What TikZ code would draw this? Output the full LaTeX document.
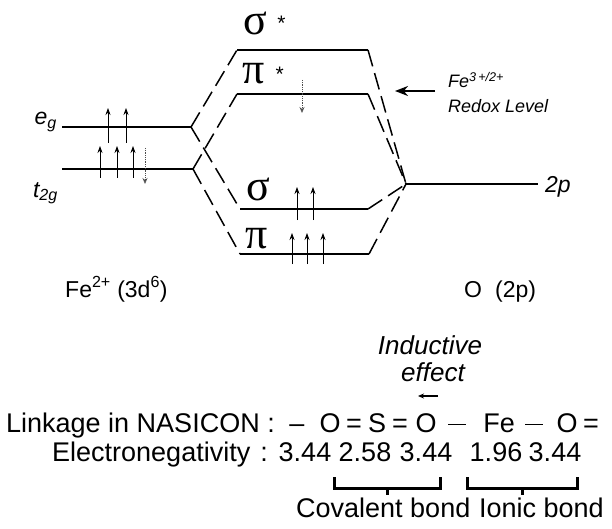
\documentclass[tikz,border=0pt]{standalone}
\usepackage{fontspec}
\setmainfont{Liberation Sans}
\newfontfamily\greekfont{Liberation Serif}
\usetikzlibrary{arrows.meta,positioning,calc}

\newcommand{\bondrule}{\rule[6.8pt]{18pt}{1.7pt}}

\begin{document}
\begin{tikzpicture}[
    x=1pt, y=-1pt,
    level/.style={line width=1.8pt},
    corr/.style={line width=1.5pt, dash pattern=on 17pt off 7pt},
    spinup/.style={line width=0.8pt, -{Stealth[length=7pt, width=5pt]}},
    spindot/.style={line width=0.8pt, densely dotted, black!70, -{Stealth[length=6pt, width=5pt, open]}},
    pointer/.style={line width=2.2pt, -{Stealth[length=13pt, width=10pt]}},
    orb/.style={font=\fontsize{44}{44}\selectfont\greekfont, inner sep=0pt},
    star/.style={font=\fontsize{21}{21}\selectfont, inner sep=0pt},
    lvl/.style={font=\fontsize{23}{23}\selectfont\itshape, inner sep=0pt},
    ion/.style={font=\fontsize{23}{23}\selectfont, inner sep=0pt},
    redox/.style={font=\fontsize{18}{18}\selectfont\itshape, inner sep=0pt},
    txt/.style={font=\fontsize{27}{27}\selectfont, inner sep=0pt},
    itxt/.style={font=\fontsize{26}{26}\selectfont\itshape, inner sep=0pt},
    brk/.style={line width=2.4pt},
]
\useasboundingbox (0,0) rectangle (612,529);

% energy levels
\foreach \n/\xa/\xb/\y in {eg/62/191/127, tg/62/193/169, sgs/237/368/50, pis/237/368/94,
                            sg/240/368/209, pi/240/369/254, op/406/538/184}{
  \coordinate (\n-l) at (\xa,\y);
  \coordinate (\n-r) at (\xb,\y);
  \draw[level] (\n-l) -- (\n-r);
}

% correlation lines
\foreach \a/\b in {eg-r/sgs-l, eg-r/sg-l, tg-r/pis-l, tg-r/pi-l,
                   sgs-r/op-l, pis-r/op-l, sg-r/op-l, pi-r/op-l}
  \draw[corr] (\a) -- (\b);

% electrons
\foreach \x in {108,126} \draw[spinup] (\x,143) -- (\x,108);
\foreach \x in {100,117,133} \draw[spinup] (\x,178) -- (\x,146);
\draw[spindot] (145,148) -- (145,184);
\draw[spindot] (302,80) -- (302,113);
\foreach \x in {297,313} \draw[spinup] (\x,220) -- (\x,187);
\foreach \x in {292,307,323} \draw[spinup] (\x,264) -- (\x,233);

% level labels
\node[orb] (sgs-lab) at (255,23) {σ};
\node[star, right=10pt of sgs-lab] (sgs-star) {*};
\node[orb] (pis-lab) at (254,74) {π};
\node[star, right=10pt of pis-lab] (pis-star) {*};
\node[orb] (sg-lab) at (258,189) {σ};
\node[orb] (pi-lab) at (257,239) {π};
\node[lvl, anchor=base east] (eg-lab) at (57,125) {e\textsubscript{g}};
\node[lvl, anchor=base east] (tg-lab) at (58,197) {t\textsubscript{2g}};
\node[lvl, anchor=base west] (op-lab) at (545,193) {2p};

% redox level
\node[redox, anchor=base west] (fe-lab) at (448,88) {Fe\textsuperscript{3\,+/2+}};
\node[redox, anchor=base west] (redox-lab) at (448,113) {Redox Level};
\coordinate (rdx-tail) at (435,91);
\coordinate (rdx-head) at (395,91);
\draw[pointer] (rdx-tail) -- (rdx-head);

\node[ion, anchor=base west] (fe-ion) at (65,297) {Fe\textsuperscript{2+} (3d\textsuperscript{6})};
\node[ion, anchor=base west] (o-ion) at (464,297) {O\hspace{13pt}(2p)};

% linkage and electronegativity
\node[itxt] (induct) at (430,345) {Inductive};
\node[itxt] (effect) at (433,372) {effect};
\coordinate (ind-tail) at (438,396);
\coordinate (ind-head) at (418,396);
\draw[line width=1.1pt, -{Stealth[length=6pt, width=5pt]}] (ind-tail) -- (ind-head);

\node[txt, anchor=base west] (linkage) at (6,432) {Linkage in NASICON :};
\foreach \x/\t [count=\i] in {297/–, 330/O, 354/=, 377/S, 400/=, 426/O, 457/\bondrule,
                              499/Fe, 534/\bondrule, 567/O, 591/=}
  \node[txt, anchor=base] (ch\i) at (\x,432) {\t};

\node[txt, anchor=base west] (eneg) at (52,461) {Electronegativity};
\node[txt, anchor=base] (colon) at (264,461) {:};
\foreach \x/\v [count=\i] in {305/3.44, 365/2.58, 426/3.44, 496/1.96, 555/3.44}
  \node[txt, anchor=base] (en\i) at (\x,461) {\v};

% bond brackets
\coordinate (cov-a) at ([xshift=-4pt, yshift=-16pt]en2.south west);
\coordinate (cov-b) at ([xshift=-12pt, yshift=-16pt]en3.south east);
\draw[brk] (cov-a) -- ++(0,11) -| (cov-b);
\coordinate (cov-mid) at ($(cov-a)!0.5!(cov-b)+(0,11)$);
\draw[brk] (cov-mid) -- ++(0,7);
\coordinate (ion-a) at ([xshift=-2pt, yshift=-16pt]en4.south west);
\coordinate (ion-b) at ([xshift=-4pt, yshift=-16pt]en5.south east);
\draw[brk] (ion-a) -- ++(0,11) -| (ion-b);
\coordinate (ion-mid) at ($(ion-a)!0.5!(ion-b)+(0,11)$);
\draw[brk] (ion-mid) -- ++(0,7);
\node[txt, anchor=base west] (covalent) at (296,517) {Covalent bond};
\node[txt, anchor=base west] (ionic) at (479,517) {Ionic bond};
\end{tikzpicture}
\end{document}
